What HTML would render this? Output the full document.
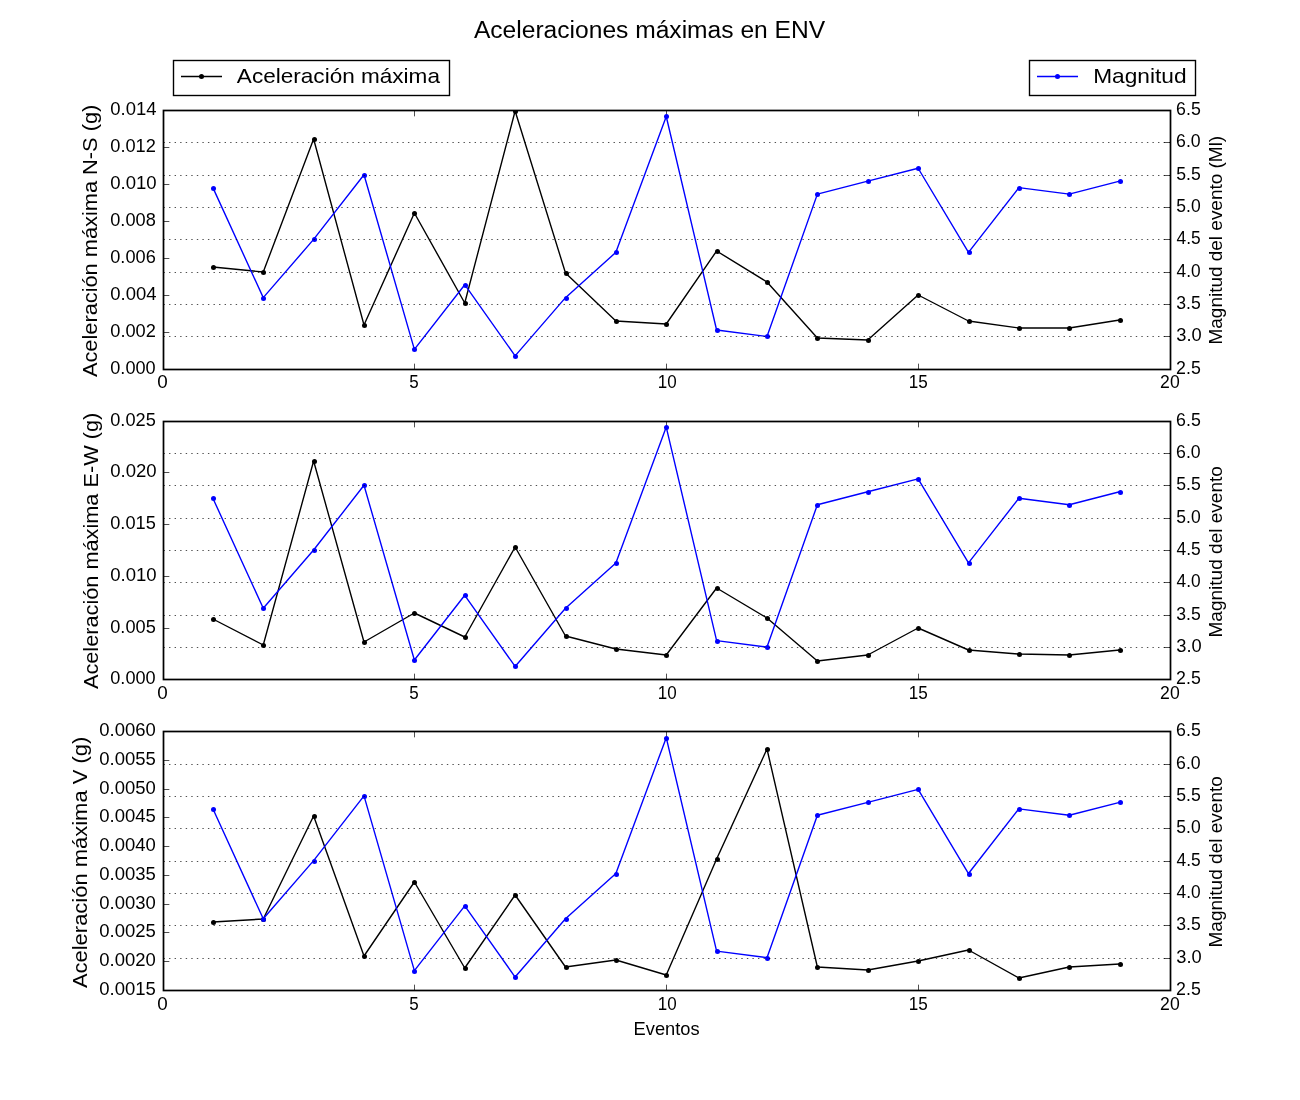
<!DOCTYPE html>
<html><head><meta charset="utf-8"><title>Aceleraciones máximas en ENV</title>
<style>
html,body{margin:0;padding:0;background:#fff;width:1300px;height:1100px;overflow:hidden}
svg{display:block;will-change:transform}
text{font-family:"Liberation Sans",sans-serif;fill:#000}
</style></head><body>
<svg width="1300" height="1100" viewBox="0 0 1300 1100">
<rect width="1300" height="1100" fill="#fff"/>
<clipPath id="c0"><rect x="162.5" y="110" width="1007.5" height="258.82"/></clipPath>
<g clip-path="url(#c0)">
<polyline points="212.88,267 263.25,272 313.62,139 364,325 414.38,213 464.75,303 515.12,111 565.5,273 615.88,321 666.25,324 716.62,251 767,282 817.38,338 867.75,340 918.12,295 968.5,321 1018.88,328 1069.25,328 1119.62,320" fill="none" stroke="#000" stroke-width="1.39" stroke-linejoin="round"/>
<g fill="#000"><circle cx="213.5" cy="267.5" r="2.5"/><circle cx="263.5" cy="272.5" r="2.5"/><circle cx="314.5" cy="139.5" r="2.5"/><circle cx="364.5" cy="325.5" r="2.5"/><circle cx="414.5" cy="213.5" r="2.5"/><circle cx="465.5" cy="303.5" r="2.5"/><circle cx="515.5" cy="111.5" r="2.5"/><circle cx="566.5" cy="273.5" r="2.5"/><circle cx="616.5" cy="321.5" r="2.5"/><circle cx="666.5" cy="324.5" r="2.5"/><circle cx="717.5" cy="251.5" r="2.5"/><circle cx="767.5" cy="282.5" r="2.5"/><circle cx="817.5" cy="338.5" r="2.5"/><circle cx="868.5" cy="340.5" r="2.5"/><circle cx="918.5" cy="295.5" r="2.5"/><circle cx="969.5" cy="321.5" r="2.5"/><circle cx="1019.5" cy="328.5" r="2.5"/><circle cx="1069.5" cy="328.5" r="2.5"/><circle cx="1120.5" cy="320.5" r="2.5"/></g>
</g>
<path d="M163.5 332.5h5.85M163.5 295.5h5.85M163.5 258.5h5.85M163.5 221.5h5.85M163.5 184.5h5.85M163.5 147.5h5.85M163.5 110.5v5.85M163.5 369.5v-5.85M414.5 110.5v5.85M414.5 369.5v-5.85M666.5 110.5v5.85M666.5 369.5v-5.85M918.5 110.5v5.85M918.5 369.5v-5.85M1170.5 110.5v5.85M1170.5 369.5v-5.85" stroke="#000" stroke-width="0.69" fill="none"/>
<g clip-path="url(#c0)">
<polyline points="212.88,187.65 263.25,297.65 313.62,239.41 364,174.71 414.38,349.41 464.75,284.71 515.12,355.88 565.5,297.65 615.88,252.35 666.25,116.47 716.62,330 767,336.47 817.38,194.12 867.75,181.18 918.12,168.24 968.5,252.35 1018.88,187.65 1069.25,194.12 1119.62,181.18" fill="none" stroke="#00f" stroke-width="1.39" stroke-linejoin="round"/>
<g fill="#00f"><circle cx="213.5" cy="188.5" r="2.5"/><circle cx="263.5" cy="298.5" r="2.5"/><circle cx="314.5" cy="239.5" r="2.5"/><circle cx="364.5" cy="175.5" r="2.5"/><circle cx="414.5" cy="349.5" r="2.5"/><circle cx="465.5" cy="285.5" r="2.5"/><circle cx="515.5" cy="356.5" r="2.5"/><circle cx="566.5" cy="298.5" r="2.5"/><circle cx="616.5" cy="252.5" r="2.5"/><circle cx="666.5" cy="116.5" r="2.5"/><circle cx="717.5" cy="330.5" r="2.5"/><circle cx="767.5" cy="336.5" r="2.5"/><circle cx="817.5" cy="194.5" r="2.5"/><circle cx="868.5" cy="181.5" r="2.5"/><circle cx="918.5" cy="168.5" r="2.5"/><circle cx="969.5" cy="252.5" r="2.5"/><circle cx="1019.5" cy="188.5" r="2.5"/><circle cx="1069.5" cy="194.5" r="2.5"/><circle cx="1120.5" cy="181.5" r="2.5"/></g>
</g>
<path d="M163.5 336.5H1170.5M163.5 304.5H1170.5M163.5 272.5H1170.5M163.5 239.5H1170.5M163.5 207.5H1170.5M163.5 175.5H1170.5M163.5 142.5H1170.5" stroke="#000" stroke-width="0.69" stroke-dasharray="1.389 4.167" fill="none"/>
<path d="M1170.5 336.5h-6.5M1170.5 304.5h-6.5M1170.5 272.5h-6.5M1170.5 239.5h-6.5M1170.5 207.5h-6.5M1170.5 175.5h-6.5M1170.5 142.5h-6.5" stroke="#000" stroke-width="0.69" fill="none"/>
<rect x="163.5" y="110.5" width="1007" height="259" fill="none" stroke="#000" stroke-width="1.72"/>
<clipPath id="c1"><rect x="162.5" y="420.59" width="1007.5" height="258.82"/></clipPath>
<g clip-path="url(#c1)">
<polyline points="212.88,619 263.25,645 313.62,461 364,642 414.38,613 464.75,637 515.12,547 565.5,636 615.88,649 666.25,655 716.62,588 767,618 817.38,661 867.75,655 918.12,628 968.5,650 1018.88,654 1069.25,655 1119.62,650" fill="none" stroke="#000" stroke-width="1.39" stroke-linejoin="round"/>
<g fill="#000"><circle cx="213.5" cy="619.5" r="2.5"/><circle cx="263.5" cy="645.5" r="2.5"/><circle cx="314.5" cy="461.5" r="2.5"/><circle cx="364.5" cy="642.5" r="2.5"/><circle cx="414.5" cy="613.5" r="2.5"/><circle cx="465.5" cy="637.5" r="2.5"/><circle cx="515.5" cy="547.5" r="2.5"/><circle cx="566.5" cy="636.5" r="2.5"/><circle cx="616.5" cy="649.5" r="2.5"/><circle cx="666.5" cy="655.5" r="2.5"/><circle cx="717.5" cy="588.5" r="2.5"/><circle cx="767.5" cy="618.5" r="2.5"/><circle cx="817.5" cy="661.5" r="2.5"/><circle cx="868.5" cy="655.5" r="2.5"/><circle cx="918.5" cy="628.5" r="2.5"/><circle cx="969.5" cy="650.5" r="2.5"/><circle cx="1019.5" cy="654.5" r="2.5"/><circle cx="1069.5" cy="655.5" r="2.5"/><circle cx="1120.5" cy="650.5" r="2.5"/></g>
</g>
<path d="M163.5 628.5h5.85M163.5 576.5h5.85M163.5 524.5h5.85M163.5 472.5h5.85M163.5 421.5v5.85M163.5 679.5v-5.85M414.5 421.5v5.85M414.5 679.5v-5.85M666.5 421.5v5.85M666.5 679.5v-5.85M918.5 421.5v5.85M918.5 679.5v-5.85M1170.5 421.5v5.85M1170.5 679.5v-5.85" stroke="#000" stroke-width="0.69" fill="none"/>
<g clip-path="url(#c1)">
<polyline points="212.88,498.24 263.25,608.24 313.62,550 364,485.29 414.38,660 464.75,595.29 515.12,666.47 565.5,608.24 615.88,562.94 666.25,427.06 716.62,640.59 767,647.06 817.38,504.71 867.75,491.76 918.12,478.82 968.5,562.94 1018.88,498.24 1069.25,504.71 1119.62,491.76" fill="none" stroke="#00f" stroke-width="1.39" stroke-linejoin="round"/>
<g fill="#00f"><circle cx="213.5" cy="498.5" r="2.5"/><circle cx="263.5" cy="608.5" r="2.5"/><circle cx="314.5" cy="550.5" r="2.5"/><circle cx="364.5" cy="485.5" r="2.5"/><circle cx="414.5" cy="660.5" r="2.5"/><circle cx="465.5" cy="595.5" r="2.5"/><circle cx="515.5" cy="666.5" r="2.5"/><circle cx="566.5" cy="608.5" r="2.5"/><circle cx="616.5" cy="563.5" r="2.5"/><circle cx="666.5" cy="427.5" r="2.5"/><circle cx="717.5" cy="641.5" r="2.5"/><circle cx="767.5" cy="647.5" r="2.5"/><circle cx="817.5" cy="505.5" r="2.5"/><circle cx="868.5" cy="492.5" r="2.5"/><circle cx="918.5" cy="479.5" r="2.5"/><circle cx="969.5" cy="563.5" r="2.5"/><circle cx="1019.5" cy="498.5" r="2.5"/><circle cx="1069.5" cy="505.5" r="2.5"/><circle cx="1120.5" cy="492.5" r="2.5"/></g>
</g>
<path d="M163.5 647.5H1170.5M163.5 615.5H1170.5M163.5 582.5H1170.5M163.5 550.5H1170.5M163.5 518.5H1170.5M163.5 485.5H1170.5M163.5 453.5H1170.5" stroke="#000" stroke-width="0.69" stroke-dasharray="1.389 4.167" fill="none"/>
<path d="M1170.5 647.5h-6.5M1170.5 615.5h-6.5M1170.5 582.5h-6.5M1170.5 550.5h-6.5M1170.5 518.5h-6.5M1170.5 485.5h-6.5M1170.5 453.5h-6.5" stroke="#000" stroke-width="0.69" fill="none"/>
<rect x="163.5" y="421.5" width="1007" height="258" fill="none" stroke="#000" stroke-width="1.72"/>
<clipPath id="c2"><rect x="162.5" y="731.18" width="1007.5" height="258.82"/></clipPath>
<g clip-path="url(#c2)">
<polyline points="212.88,922 263.25,919 313.62,816 364,956 414.38,882 464.75,968 515.12,895 565.5,967 615.88,960 666.25,975 716.62,859 767,749 817.38,967 867.75,970 918.12,961 968.5,950 1018.88,978 1069.25,967 1119.62,964" fill="none" stroke="#000" stroke-width="1.39" stroke-linejoin="round"/>
<g fill="#000"><circle cx="213.5" cy="922.5" r="2.5"/><circle cx="263.5" cy="919.5" r="2.5"/><circle cx="314.5" cy="816.5" r="2.5"/><circle cx="364.5" cy="956.5" r="2.5"/><circle cx="414.5" cy="882.5" r="2.5"/><circle cx="465.5" cy="968.5" r="2.5"/><circle cx="515.5" cy="895.5" r="2.5"/><circle cx="566.5" cy="967.5" r="2.5"/><circle cx="616.5" cy="960.5" r="2.5"/><circle cx="666.5" cy="975.5" r="2.5"/><circle cx="717.5" cy="859.5" r="2.5"/><circle cx="767.5" cy="749.5" r="2.5"/><circle cx="817.5" cy="967.5" r="2.5"/><circle cx="868.5" cy="970.5" r="2.5"/><circle cx="918.5" cy="961.5" r="2.5"/><circle cx="969.5" cy="950.5" r="2.5"/><circle cx="1019.5" cy="978.5" r="2.5"/><circle cx="1069.5" cy="967.5" r="2.5"/><circle cx="1120.5" cy="964.5" r="2.5"/></g>
</g>
<path d="M163.5 961.5h5.85M163.5 932.5h5.85M163.5 904.5h5.85M163.5 875.5h5.85M163.5 846.5h5.85M163.5 817.5h5.85M163.5 789.5h5.85M163.5 760.5h5.85M163.5 731.5v5.85M163.5 990.5v-5.85M414.5 731.5v5.85M414.5 990.5v-5.85M666.5 731.5v5.85M666.5 990.5v-5.85M918.5 731.5v5.85M918.5 990.5v-5.85M1170.5 731.5v5.85M1170.5 990.5v-5.85" stroke="#000" stroke-width="0.69" fill="none"/>
<g clip-path="url(#c2)">
<polyline points="212.88,808.82 263.25,918.82 313.62,860.59 364,795.88 414.38,970.59 464.75,905.88 515.12,977.06 565.5,918.82 615.88,873.53 666.25,737.65 716.62,951.18 767,957.65 817.38,815.29 867.75,802.35 918.12,789.41 968.5,873.53 1018.88,808.82 1069.25,815.29 1119.62,802.35" fill="none" stroke="#00f" stroke-width="1.39" stroke-linejoin="round"/>
<g fill="#00f"><circle cx="213.5" cy="809.5" r="2.5"/><circle cx="263.5" cy="919.5" r="2.5"/><circle cx="314.5" cy="861.5" r="2.5"/><circle cx="364.5" cy="796.5" r="2.5"/><circle cx="414.5" cy="971.5" r="2.5"/><circle cx="465.5" cy="906.5" r="2.5"/><circle cx="515.5" cy="977.5" r="2.5"/><circle cx="566.5" cy="919.5" r="2.5"/><circle cx="616.5" cy="874.5" r="2.5"/><circle cx="666.5" cy="738.5" r="2.5"/><circle cx="717.5" cy="951.5" r="2.5"/><circle cx="767.5" cy="958.5" r="2.5"/><circle cx="817.5" cy="815.5" r="2.5"/><circle cx="868.5" cy="802.5" r="2.5"/><circle cx="918.5" cy="789.5" r="2.5"/><circle cx="969.5" cy="874.5" r="2.5"/><circle cx="1019.5" cy="809.5" r="2.5"/><circle cx="1069.5" cy="815.5" r="2.5"/><circle cx="1120.5" cy="802.5" r="2.5"/></g>
</g>
<path d="M163.5 958.5H1170.5M163.5 925.5H1170.5M163.5 893.5H1170.5M163.5 861.5H1170.5M163.5 828.5H1170.5M163.5 796.5H1170.5M163.5 764.5H1170.5" stroke="#000" stroke-width="0.69" stroke-dasharray="1.389 4.167" fill="none"/>
<path d="M1170.5 958.5h-6.5M1170.5 925.5h-6.5M1170.5 893.5h-6.5M1170.5 861.5h-6.5M1170.5 828.5h-6.5M1170.5 796.5h-6.5M1170.5 764.5h-6.5" stroke="#000" stroke-width="0.69" fill="none"/>
<rect x="163.5" y="731.5" width="1007" height="259" fill="none" stroke="#000" stroke-width="1.72"/>
<rect x="173.5" y="60.5" width="276" height="35" fill="#fff" stroke="#000" stroke-width="1.39"/>
<path d="M181 76.5H222" stroke="#000" stroke-width="1.39"/><circle cx="201.5" cy="76.5" r="2.5" fill="#000"/>
<rect x="1029.5" y="60.5" width="166" height="35" fill="#fff" stroke="#000" stroke-width="1.39"/>
<path d="M1037 76.5H1078" stroke="#00f" stroke-width="1.39"/><circle cx="1057.5" cy="76.5" r="2.5" fill="#00f"/>
<text x="157.25" y="388" font-size="17.67" textLength="10.49" lengthAdjust="spacingAndGlyphs">0</text>
<text x="409.33" y="388" font-size="17.67" textLength="9.44" lengthAdjust="spacingAndGlyphs">5</text>
<text x="657.74" y="388" font-size="17.67" textLength="18.91" lengthAdjust="spacingAndGlyphs">10</text>
<text x="908.74" y="388" font-size="17.67" textLength="19.02" lengthAdjust="spacingAndGlyphs">15</text>
<text x="1160.1" y="388" font-size="17.67" textLength="19.58" lengthAdjust="spacingAndGlyphs">20</text>
<text transform="translate(97 377.11) rotate(-90)" font-size="20.61" textLength="272.44" lengthAdjust="spacingAndGlyphs">Aceleración máxima N-S (g)</text>
<text x="110.28" y="374" font-size="17.67" textLength="45.39" lengthAdjust="spacingAndGlyphs">0.000</text>
<text x="110.28" y="337" font-size="17.67" textLength="45.6" lengthAdjust="spacingAndGlyphs">0.002</text>
<text x="110.27" y="300" font-size="17.67" textLength="46.2" lengthAdjust="spacingAndGlyphs">0.004</text>
<text x="110.28" y="263" font-size="17.67" textLength="45.49" lengthAdjust="spacingAndGlyphs">0.006</text>
<text x="110.28" y="226" font-size="17.67" textLength="45.49" lengthAdjust="spacingAndGlyphs">0.008</text>
<text x="110.26" y="189" font-size="17.67" textLength="46.42" lengthAdjust="spacingAndGlyphs">0.010</text>
<text x="110.28" y="152" font-size="17.67" textLength="45.6" lengthAdjust="spacingAndGlyphs">0.012</text>
<text x="110.27" y="115" font-size="17.67" textLength="46.2" lengthAdjust="spacingAndGlyphs">0.014</text>
<text transform="translate(1222 344.51) rotate(-90)" font-size="17.67" textLength="208.7" lengthAdjust="spacingAndGlyphs">Magnitud del evento (Ml)</text>
<text x="1176.09" y="374" font-size="17.67" textLength="24.68" lengthAdjust="spacingAndGlyphs">2.5</text>
<text x="1176.27" y="341" font-size="17.67" textLength="25.42" lengthAdjust="spacingAndGlyphs">3.0</text>
<text x="1176.3" y="309" font-size="17.67" textLength="24.47" lengthAdjust="spacingAndGlyphs">3.5</text>
<text x="1176.61" y="277" font-size="17.67" textLength="24.05" lengthAdjust="spacingAndGlyphs">4.0</text>
<text x="1176.61" y="244" font-size="17.67" textLength="24.15" lengthAdjust="spacingAndGlyphs">4.5</text>
<text x="1176.3" y="212" font-size="17.67" textLength="24.36" lengthAdjust="spacingAndGlyphs">5.0</text>
<text x="1176.3" y="180" font-size="17.67" textLength="24.47" lengthAdjust="spacingAndGlyphs">5.5</text>
<text x="1176.1" y="147" font-size="17.67" textLength="24.58" lengthAdjust="spacingAndGlyphs">6.0</text>
<text x="1176.09" y="115" font-size="17.67" textLength="24.68" lengthAdjust="spacingAndGlyphs">6.5</text>
<text x="157.25" y="699" font-size="17.67" textLength="10.49" lengthAdjust="spacingAndGlyphs">0</text>
<text x="409.33" y="699" font-size="17.67" textLength="9.44" lengthAdjust="spacingAndGlyphs">5</text>
<text x="657.74" y="699" font-size="17.67" textLength="18.91" lengthAdjust="spacingAndGlyphs">10</text>
<text x="908.74" y="699" font-size="17.67" textLength="19.02" lengthAdjust="spacingAndGlyphs">15</text>
<text x="1160.1" y="699" font-size="17.67" textLength="19.58" lengthAdjust="spacingAndGlyphs">20</text>
<text transform="translate(98 689.11) rotate(-90)" font-size="20.61" textLength="276.4" lengthAdjust="spacingAndGlyphs">Aceleración máxima E-W (g)</text>
<text x="110.28" y="684" font-size="17.67" textLength="45.39" lengthAdjust="spacingAndGlyphs">0.000</text>
<text x="110.28" y="633" font-size="17.67" textLength="45.49" lengthAdjust="spacingAndGlyphs">0.005</text>
<text x="110.26" y="581" font-size="17.67" textLength="46.42" lengthAdjust="spacingAndGlyphs">0.010</text>
<text x="110.28" y="529" font-size="17.67" textLength="45.49" lengthAdjust="spacingAndGlyphs">0.015</text>
<text x="110.26" y="477" font-size="17.67" textLength="46.42" lengthAdjust="spacingAndGlyphs">0.020</text>
<text x="110.28" y="426" font-size="17.67" textLength="45.49" lengthAdjust="spacingAndGlyphs">0.025</text>
<text transform="translate(1222 637.51) rotate(-90)" font-size="17.67" textLength="171.41" lengthAdjust="spacingAndGlyphs">Magnitud del evento</text>
<text x="1176.09" y="684" font-size="17.67" textLength="24.68" lengthAdjust="spacingAndGlyphs">2.5</text>
<text x="1176.27" y="652" font-size="17.67" textLength="25.42" lengthAdjust="spacingAndGlyphs">3.0</text>
<text x="1176.3" y="620" font-size="17.67" textLength="24.47" lengthAdjust="spacingAndGlyphs">3.5</text>
<text x="1176.61" y="587" font-size="17.67" textLength="24.05" lengthAdjust="spacingAndGlyphs">4.0</text>
<text x="1176.61" y="555" font-size="17.67" textLength="24.15" lengthAdjust="spacingAndGlyphs">4.5</text>
<text x="1176.3" y="523" font-size="17.67" textLength="24.36" lengthAdjust="spacingAndGlyphs">5.0</text>
<text x="1176.3" y="490" font-size="17.67" textLength="24.47" lengthAdjust="spacingAndGlyphs">5.5</text>
<text x="1176.1" y="458" font-size="17.67" textLength="24.58" lengthAdjust="spacingAndGlyphs">6.0</text>
<text x="1176.09" y="426" font-size="17.67" textLength="24.68" lengthAdjust="spacingAndGlyphs">6.5</text>
<text x="633.55" y="1035" font-size="17.67" textLength="66.07" lengthAdjust="spacingAndGlyphs">Eventos</text>
<text x="157.25" y="1010" font-size="17.67" textLength="10.49" lengthAdjust="spacingAndGlyphs">0</text>
<text x="409.33" y="1010" font-size="17.67" textLength="9.44" lengthAdjust="spacingAndGlyphs">5</text>
<text x="657.74" y="1010" font-size="17.67" textLength="18.91" lengthAdjust="spacingAndGlyphs">10</text>
<text x="908.74" y="1010" font-size="17.67" textLength="19.02" lengthAdjust="spacingAndGlyphs">15</text>
<text x="1160.1" y="1010" font-size="17.67" textLength="19.58" lengthAdjust="spacingAndGlyphs">20</text>
<text transform="translate(87 988.11) rotate(-90)" font-size="20.61" textLength="251.42" lengthAdjust="spacingAndGlyphs">Aceleración máxima V (g)</text>
<text x="99.26" y="995" font-size="17.67" textLength="56.62" lengthAdjust="spacingAndGlyphs">0.0015</text>
<text x="99.27" y="966" font-size="17.67" textLength="56.51" lengthAdjust="spacingAndGlyphs">0.0020</text>
<text x="99.26" y="937" font-size="17.67" textLength="56.62" lengthAdjust="spacingAndGlyphs">0.0025</text>
<text x="99.27" y="909" font-size="17.67" textLength="56.51" lengthAdjust="spacingAndGlyphs">0.0030</text>
<text x="99.26" y="880" font-size="17.67" textLength="56.62" lengthAdjust="spacingAndGlyphs">0.0035</text>
<text x="99.27" y="851" font-size="17.67" textLength="56.51" lengthAdjust="spacingAndGlyphs">0.0040</text>
<text x="99.26" y="822" font-size="17.67" textLength="56.62" lengthAdjust="spacingAndGlyphs">0.0045</text>
<text x="99.27" y="794" font-size="17.67" textLength="56.51" lengthAdjust="spacingAndGlyphs">0.0050</text>
<text x="99.26" y="765" font-size="17.67" textLength="56.62" lengthAdjust="spacingAndGlyphs">0.0055</text>
<text x="99.27" y="736" font-size="17.67" textLength="56.51" lengthAdjust="spacingAndGlyphs">0.0060</text>
<text transform="translate(1222 947.51) rotate(-90)" font-size="17.67" textLength="171.41" lengthAdjust="spacingAndGlyphs">Magnitud del evento</text>
<text x="1176.09" y="995" font-size="17.67" textLength="24.68" lengthAdjust="spacingAndGlyphs">2.5</text>
<text x="1176.27" y="963" font-size="17.67" textLength="25.42" lengthAdjust="spacingAndGlyphs">3.0</text>
<text x="1176.3" y="930" font-size="17.67" textLength="24.47" lengthAdjust="spacingAndGlyphs">3.5</text>
<text x="1176.61" y="898" font-size="17.67" textLength="24.05" lengthAdjust="spacingAndGlyphs">4.0</text>
<text x="1176.61" y="866" font-size="17.67" textLength="24.15" lengthAdjust="spacingAndGlyphs">4.5</text>
<text x="1176.3" y="833" font-size="17.67" textLength="24.36" lengthAdjust="spacingAndGlyphs">5.0</text>
<text x="1176.3" y="801" font-size="17.67" textLength="24.47" lengthAdjust="spacingAndGlyphs">5.5</text>
<text x="1176.1" y="769" font-size="17.67" textLength="24.58" lengthAdjust="spacingAndGlyphs">6.0</text>
<text x="1176.09" y="736" font-size="17.67" textLength="24.68" lengthAdjust="spacingAndGlyphs">6.5</text>
<text x="473.9" y="38" font-size="23" textLength="351.29" lengthAdjust="spacingAndGlyphs">Aceleraciones máximas en ENV</text>
<text x="236.89" y="83" font-size="20.4" textLength="203.08" lengthAdjust="spacingAndGlyphs">Aceleración máxima</text>
<text x="1093.18" y="83" font-size="20.4" textLength="93.33" lengthAdjust="spacingAndGlyphs">Magnitud</text>
</svg>
</body></html>
